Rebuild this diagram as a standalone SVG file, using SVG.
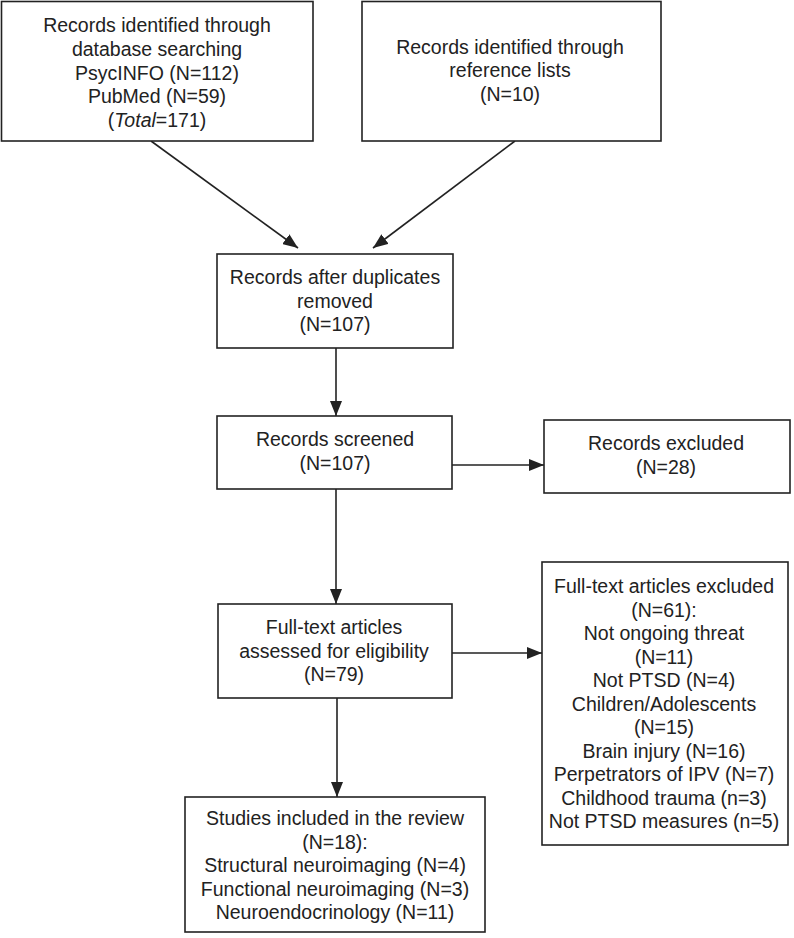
<svg xmlns="http://www.w3.org/2000/svg" width="794" height="938" viewBox="0 0 794 938">
<style>
.box{fill:#fff;stroke:#222;stroke-width:1.6}
.t{font-family:"Liberation Sans",Arial,sans-serif;font-size:19.5px;fill:#222;text-anchor:middle}
.c{stroke:#222;stroke-width:1.6;fill:none}
</style>
<defs>
<marker id="ah" markerUnits="userSpaceOnUse" markerWidth="16" markerHeight="12" refX="15" refY="6" orient="auto">
<path d="M0,0 L15,6 L0,12 Z" fill="#222"/>
</marker>
</defs>
<rect width="794" height="938" fill="#fff"/>
<g id="connectors">
<line class="c" x1="151" y1="141" x2="298" y2="248" marker-end="url(#ah)"/>
<line class="c" x1="515" y1="141" x2="373" y2="248" marker-end="url(#ah)"/>
<line class="c" x1="336" y1="348" x2="336" y2="416" marker-end="url(#ah)"/>
<line class="c" x1="452" y1="465" x2="544" y2="465" marker-end="url(#ah)"/>
<line class="c" x1="336" y1="489" x2="336" y2="604" marker-end="url(#ah)"/>
<line class="c" x1="452" y1="653" x2="542" y2="653" marker-end="url(#ah)"/>
<line class="c" x1="337" y1="698" x2="337" y2="797" marker-end="url(#ah)"/>
</g>
<g id="n1">
<rect class="box" x="1.5" y="1.5" width="311.5" height="139.5"/>
<text class="t" x="157" y="32">Records identified through</text>
<text class="t" x="157" y="56">database searching</text>
<text class="t" x="157" y="80">PsycINFO (N=112)</text>
<text class="t" x="157" y="103">PubMed (N=59)</text>
<text class="t" x="157" y="127">(<tspan font-style="italic">Total</tspan>=171)</text>
</g>
<g id="n2">
<rect class="box" x="362" y="1.5" width="299" height="139.5"/>
<text class="t" x="510" y="54">Records identified through</text>
<text class="t" x="510" y="77">reference lists</text>
<text class="t" x="510" y="101">(N=10)</text>
</g>
<g id="n3">
<rect class="box" x="217" y="254" width="236" height="94"/>
<text class="t" x="335" y="284">Records after duplicates</text>
<text class="t" x="335" y="307.5">removed</text>
<text class="t" x="335" y="331">(N=107)</text>
</g>
<g id="n4">
<rect class="box" x="217" y="416" width="235" height="73"/>
<text class="t" x="335" y="446">Records screened</text>
<text class="t" x="335" y="470">(N=107)</text>
</g>
<g id="n5">
<rect class="box" x="544" y="420" width="246" height="73"/>
<text class="t" x="666" y="450">Records excluded</text>
<text class="t" x="666" y="474">(N=28)</text>
</g>
<g id="n6">
<rect class="box" x="218" y="604" width="234" height="94"/>
<text class="t" x="334" y="634">Full-text articles</text>
<text class="t" x="334" y="657.5">assessed for eligibility</text>
<text class="t" x="334" y="681">(N=79)</text>
</g>
<g id="n7">
<rect class="box" x="542" y="562" width="246" height="283"/>
<text class="t" x="664" y="593">Full-text articles excluded</text>
<text class="t" x="664" y="616.5">(N=61):</text>
<text class="t" x="664" y="640">Not ongoing threat</text>
<text class="t" x="664" y="663.5">(N=11)</text>
<text class="t" x="664" y="687">Not PTSD (N=4)</text>
<text class="t" x="664" y="710.5">Children/Adolescents</text>
<text class="t" x="664" y="734">(N=15)</text>
<text class="t" x="664" y="757.5">Brain injury (N=16)</text>
<text class="t" x="664" y="781">Perpetrators of IPV (N=7)</text>
<text class="t" x="664" y="804.5">Childhood trauma (n=3)</text>
<text class="t" x="664" y="828">Not PTSD measures (n=5)</text>
</g>
<g id="n8">
<rect class="box" x="185" y="797" width="300" height="135"/>
<text class="t" x="335" y="825">Studies included in the review</text>
<text class="t" x="335" y="848.5">(N=18):</text>
<text class="t" x="335" y="872">Structural neuroimaging (N=4)</text>
<text class="t" x="335" y="895.5">Functional neuroimaging (N=3)</text>
<text class="t" x="335" y="919">Neuroendocrinology (N=11)</text>
</g>
</svg>
